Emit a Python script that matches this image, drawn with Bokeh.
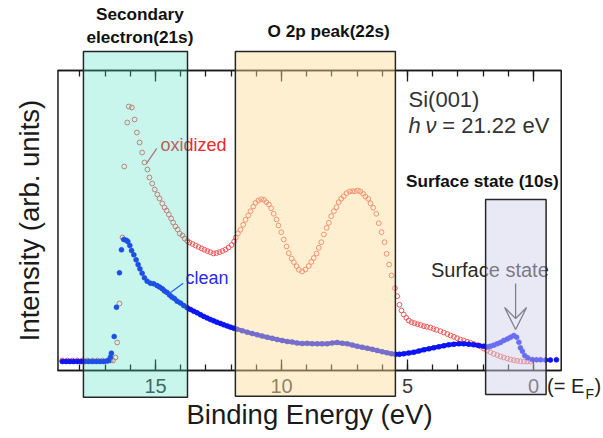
import math
from bokeh.plotting import figure
from bokeh.models import (Range1d, LinearAxis, FixedTicker, BoxAnnotation, Label,
                          Arrow, VeeHead)
from bokeh.embed import file_html
from bokeh.resources import INLINE

# ---------------- data (binding energy eV, intensity arb. units) ----------------
oxidized_points = [
    (18.70, 10), (18.50, 10), (18.30, 10), (18.10, 10), (17.90, 10), (17.70, 10), (17.50, 10),
    (17.30, 10), (17.10, 10), (16.90, 10), (16.78, 10), (16.69, 10), (16.59, 13), (16.52, 28),
    (16.43, 67), (16.31, 133), (16.24, 204), (16.12, 248), (16.06, 264), (15.94, 263), (15.83, 251),
    (15.74, 238), (15.63, 228), (15.53, 218), (15.44, 208), (15.32, 201), (15.24, 193), (15.13, 187),
    (15.03, 181), (14.93, 176), (14.84, 172), (14.73, 167), (14.64, 163), (14.56, 160), (14.47, 156),
    (14.38, 152), (14.30, 148), (14.21, 144), (14.12, 141), (14.04, 137), (13.93, 135), (13.84, 132),
    (13.74, 129.5), (13.65, 128), (13.53, 126.5), (13.41, 125), (13.29, 123.5), (13.17, 122),
    (13.06, 120.7), (12.94, 119.5), (12.82, 118.3), (12.70, 117), (12.58, 117.5), (12.46, 118.3),
    (12.34, 119.5), (12.22, 121), (12.10, 123), (11.98, 125.5), (11.88, 129), (11.81, 133),
    (11.73, 137), (11.63, 140.7), (11.52, 145.7), (11.43, 150.7), (11.32, 155), (11.23, 159.3),
    (11.12, 164), (11.03, 167.7), (10.92, 170), (10.81, 171.3), (10.70, 170.7), (10.60, 168.3),
    (10.50, 166), (10.41, 162.3), (10.31, 156.7), (10.20, 151), (10.12, 145), (10.01, 138.3),
    (9.91, 131), (9.80, 124), (9.71, 117.3), (9.60, 112), (9.51, 108.3), (9.40, 104.3),
    (9.31, 100.7), (9.18, 99), (9.05, 101), (8.92, 104.5), (8.82, 108.5), (8.72, 112.5),
    (8.61, 117), (8.52, 122.7), (8.42, 128.3), (8.32, 136), (8.21, 142.7), (8.12, 147.7),
    (8.03, 154.3), (7.92, 159.3), (7.82, 163.3), (7.73, 168.3), (7.63, 171.7), (7.53, 174.3),
    (7.42, 177.3), (7.30, 179), (7.19, 179.3), (7.09, 179.3), (6.97, 180), (6.87, 179),
    (6.76, 176.7), (6.67, 174), (6.56, 171.7), (6.47, 167.3), (6.36, 162.7), (6.24, 156.7),
    (6.14, 147.3), (6.03, 138.3), (5.91, 128.3), (5.83, 116.7), (5.73, 106), (5.63, 95),
    (5.50, 82.3), (5.41, 74.3), (5.32, 65.7), (5.24, 60), (5.15, 56), (5.05, 52.7), (4.95, 50),
    (4.84, 48.3), (4.72, 47.3), (4.60, 46.3), (4.48, 45.5), (4.35, 44.3), (4.23, 43.7), (4.09, 43),
    (3.97, 41.7), (3.85, 40.7), (3.69, 39.3), (3.56, 38), (3.42, 36.5), (3.29, 35), (3.16, 33.7),
    (3.03, 32.3), (2.90, 31), (2.77, 30), (2.63, 28.7), (2.50, 27.7), (2.37, 26.5), (2.23, 25.3),
    (2.10, 24), (1.97, 22), (1.84, 20), (1.71, 18.3), (1.58, 16.7), (1.44, 15.3), (1.31, 14),
    (1.18, 13), (1.04, 12), (0.91, 11), (0.78, 10.3), (0.65, 9.7), (0.52, 9.3), (0.38, 9),
    (0.25, 9), (0.12, 9),
]

clean_points = [
    (18.70, 9), (18.55, 9), (18.40, 9), (18.25, 9), (18.10, 9), (17.95, 9), (17.80, 9), (17.65, 9),
    (17.50, 9), (17.35, 9), (17.20, 9), (17.05, 9), (16.92, 9.5), (16.85, 10),
    (16.79, 13.3), (16.75, 17.3), (16.64, 34), (16.55, 63.3), (16.43, 97.7), (16.35, 120.7),
    (16.26, 131), (16.16, 130.3), (16.10, 129), (16.02, 125), (15.95, 120), (15.86, 115.7),
    (15.77, 110.7), (15.69, 106), (15.62, 101.7), (15.53, 97.3), (15.44, 92.7), (15.33, 89.3),
    (15.20, 87.3), (15.07, 86.7), (14.94, 85), (14.84, 83.5), (14.73, 81.7), (14.64, 79.5),
    (14.54, 78), (14.44, 75.5), (14.35, 73.5), (14.25, 72), (14.14, 69.3), (14.01, 67.5),
    (13.88, 65), (13.74, 62.7), (13.61, 61), (13.48, 59.3), (13.35, 57.7), (13.21, 55.7),
    (13.08, 54), (12.95, 52.5), (12.82, 51), (12.69, 49.7), (12.56, 48.3), (12.42, 47),
    (12.29, 45.7), (12.15, 44.5), (12.02, 43.3), (11.89, 42.3), (11.76, 41.3), (11.56, 39.8),
    (11.36, 38.3), (11.16, 37), (10.96, 35.7), (10.77, 34.5), (10.57, 33.3), (10.37, 32.2),
    (10.17, 31), (9.97, 30), (9.77, 29), (9.58, 28.5), (9.38, 27.5), (9.18, 27), (8.98, 27.2),
    (8.78, 26.8), (8.58, 26.7), (8.39, 26.7), (8.19, 26.7), (7.99, 27.5), (7.79, 28), (7.59, 27.3),
    (7.39, 26.7), (7.19, 25.5), (7.00, 24.3), (6.80, 23.3), (6.60, 22.3), (6.40, 21.2), (6.20, 20),
    (6.00, 18.8), (5.81, 17.7), (5.63, 16.8), (5.48, 16.3), (5.32, 16.3), (5.15, 16.7), (4.95, 17.5),
    (4.75, 18.3), (4.55, 19.5), (4.35, 20.7), (4.15, 21.7), (3.96, 22.7), (3.76, 23.7), (3.56, 24.7),
    (3.36, 25.7), (3.16, 26.3), (2.96, 26.7), (2.77, 26.7), (2.57, 26.3), (2.37, 25.7), (2.17, 25),
    (1.97, 24.3), (1.83, 23.5), (1.71, 24.3), (1.58, 25.3), (1.44, 26.7), (1.31, 28), (1.18, 30),
    (1.04, 31.5), (0.91, 33.3), (0.78, 35), (0.67, 33.3), (0.58, 28.3), (0.52, 22.7), (0.44, 19.3),
    (0.35, 15), (0.23, 12.7), (0.05, 11), (-0.12, 10.7), (-0.28, 10.7), (-0.48, 10.5),
    (-0.67, 10.5), (-0.91, 10.7),
]

major_ticks = [15, 10, 5, 0]
minor_ticks = [18, 17, 16, 15, 14, 13, 12, 11, 10, 9, 8, 7, 6, 5, 4, 3, 2, 1, 0]

# plotted window of the spectrum (eV, intensity)
E_MAX, E_MIN = 18.87, -1.10
I_MIN, I_MAX = 0, 300

# shaded acquisition windows: (name, E left, E right, I bottom, I top)
windows = [
    ("secondary", 17.86, 13.73, -26.7, 319),
    ("o2p", 11.83, 5.48, -25.7, 319),
    ("surface", 1.90, -0.50, -24, 171),
]

ox_E = [pt[0] for pt in oxidized_points]
ox_I = [pt[1] for pt in oxidized_points]
cl_E = [pt[0] for pt in clean_points]
cl_I = [pt[1] for pt in clean_points]

FONT = "Liberation Sans"

# the canvas extends past the spectrum window so that the shaded windows can overhang it
p = figure(width=603, height=438, output_backend="svg", toolbar_location=None,
           x_range=Range1d(21.151, -2.778), y_range=Range1d(-68, 370),
           x_axis_location=None, y_axis_location=None, min_border=0)
p.background_fill_color = "white"
p.border_fill_color = "white"
p.outline_line_color = None
p.xgrid.visible = False
p.ygrid.visible = False

ticker = FixedTicker(ticks=major_ticks, minor_ticks=minor_ticks)
axis_style = dict(ticker=ticker, bounds=(E_MIN, E_MAX),
                  axis_line_color="#1a1a1a", axis_line_width=1.5,
                  major_tick_in=11, major_tick_out=0, minor_tick_in=6, minor_tick_out=0,
                  major_tick_line_color="#1a1a1a", minor_tick_line_color="#1a1a1a",
                  major_tick_line_width=1.3, minor_tick_line_width=1.3)

bottom = LinearAxis(fixed_location=I_MIN, **axis_style,
                    major_label_text_font=FONT, major_label_text_font_size="20px",
                    major_label_text_color="#3a3a3a", major_label_standoff=8,
                    axis_label="Binding Energy (eV)", axis_label_text_font=FONT,
                    axis_label_text_font_size="27.5px", axis_label_text_font_style="normal",
                    axis_label_text_color="#1a1a1a", axis_label_standoff=3)
p.add_layout(bottom, "below")
top = LinearAxis(fixed_location=I_MAX, **axis_style,
                 major_label_text_color=None, major_label_text_font_size="1px")
p.add_layout(top, "above")

# inner frame
p.add_layout(BoxAnnotation(left=E_MAX, right=E_MIN, bottom=I_MIN, top=I_MAX,
                           fill_alpha=0, fill_color=None, line_color="#1a1a1a",
                           line_alpha=1.0, line_width=1.5))

# ---------------- data marks ----------------
p.scatter(ox_E, ox_I, marker="circle", size=4.8, fill_color=None,
          line_color="#f05858", line_width=1.0)

base_n = sum(1 for e in cl_E if e >= 16.85)
dense_idx = [i for i, e in enumerate(cl_E) if 0.75 <= e <= 14.95]
p.line(cl_E[:base_n], cl_I[:base_n], line_color="#0a14f5", line_width=4)
p.line([cl_E[i] for i in dense_idx], [cl_I[i] for i in dense_idx],
       line_color="#0a14f5", line_width=4)
p.scatter(cl_E, cl_I, marker="circle", size=5, fill_color="#0a14f5", line_color="#0a14f5",
          line_width=0.5)

# ---------------- annotations ----------------
def lab(text, x, y, size, color="#333333", font=FONT, style="normal", align="left",
        baseline="alphabetic", angle=0):
    p.add_layout(Label(x=x, y=y, text=text, text_font=font, text_font_size=size,
                       text_color=color, text_font_style=style, text_align=align,
                       text_baseline=baseline, angle=angle))

# curve labels and leaders
lab("oxidized", 14.80, 225.5, "18px", color="#ee2a2a")
p.add_layout(Arrow(x_start=15.36, y_start=207, x_end=14.95, y_end=222, end=None,
                   line_color="#e03a3a", line_width=1.3))
lab("clean", 13.81, 92.5, "18px", color="#2a2af5")
p.add_layout(Arrow(x_start=14.47, y_start=76.7, x_end=13.90, y_end=87.3, end=None,
                   line_color="#2a2af5", line_width=1.3))

# sample info
lab("Si(001)", 4.96, 271, "22px")
lab("h", 4.96, 245, "22px", style="italic")
lab("\u03bd", 4.29, 245, "22px", style="italic")
lab("= 21.22 eV", 3.62, 245, "22px")

# surface state arrow and label
lab("Surface state", 4.07, 100.5, "20px", color="#2a2a2a")
p.add_layout(Arrow(x_start=0.71, y_start=87, x_end=0.71, y_end=41,
                   line_color="#3a3a3a", line_width=1.3,
                   end=VeeHead(size=22, fill_color=None, fill_alpha=0,
                               line_color="#3a3a3a", line_width=1.3)))

# (= E_F)
lab("(= E", -0.54, -15, "20px", color="#222222")
lab("F", -2.06, -23.5, "14px", color="#222222")
lab(")", -2.42, -15, "20px", color="#222222")

# y axis title
lab("Intensity (arb. units)", 20.0, 150, "27.5px", color="#1a1a1a", align="center",
    angle=math.pi / 2)

# shaded windows (drawn on top)
fills = {"secondary": ("#48dec0", 0.30), "o2p": ("#fbdc96", 0.45), "surface": ("#d0d0ec", 0.48)}
for name, l, r, b, t in windows:
    fc, fa = fills[name]
    p.add_layout(BoxAnnotation(left=l, right=r, bottom=b, top=t, fill_color=fc, fill_alpha=fa,
                               line_color="#262626", line_alpha=1.0, line_width=1.5))

# window titles
lab("Secondary", 15.62, 356.5, "17.2px", color="#111111", style="bold", align="center")
lab("electron(21s)", 15.62, 333.5, "17.2px", color="#111111", style="bold", align="center")
lab("O 2p peak(22s)", 8.13, 339.5, "17.2px", color="#111111", style="bold", align="center")
lab("Surface state (10s)", 2.03, 189.5, "17.2px", color="#111111", style="bold", align="center")

open("out.html", "w").write(file_html(p, INLINE))
